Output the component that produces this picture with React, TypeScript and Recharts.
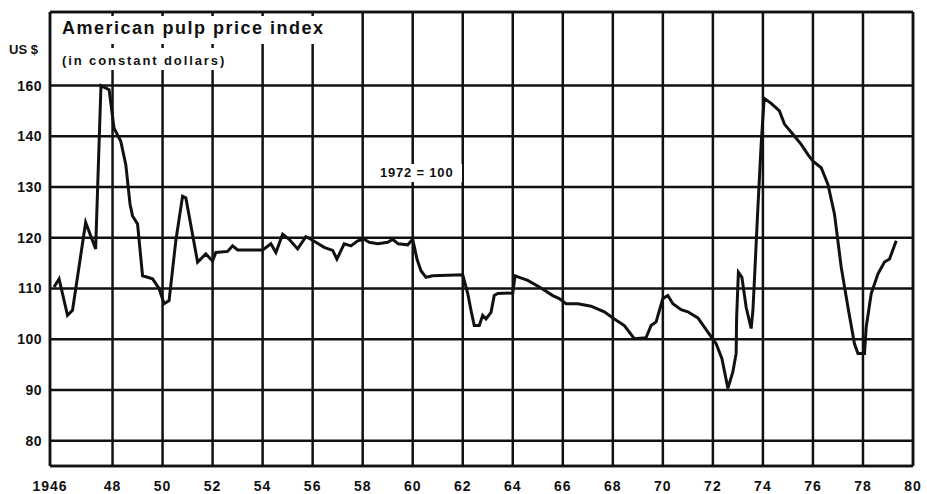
import React from 'react';
import { LineChart, Line, XAxis, YAxis, CartesianGrid, ReferenceLine } from 'recharts';

// American pulp price index (in constant dollars), 1972 = 100
const years = [
  1946.13, 1946.29, 1946.56, 1946.72, 1947.14, 1947.46, 1947.63, 1947.89,
  1948.06, 1948.33, 1948.53, 1948.7, 1948.8, 1949.0, 1949.2, 1949.6, 1949.86,
  1950.06, 1950.26, 1950.53, 1950.8, 1950.93, 1951.4, 1951.73, 1952.0, 1952.13,
  1952.6, 1952.8, 1953.0, 1954.0, 1954.33, 1954.53, 1954.8, 1955.06, 1955.4,
  1955.73, 1955.93, 1956.46, 1956.8, 1956.97, 1957.26, 1957.53, 1957.8, 1958.06,
  1958.26, 1958.6, 1959.0, 1959.2, 1959.42, 1959.8, 1960.0, 1960.17, 1960.33,
  1960.53, 1960.8, 1962.0, 1962.2, 1962.33, 1962.46, 1962.66, 1962.8, 1962.93,
  1963.13, 1963.26, 1963.4, 1964.0, 1964.09, 1964.26, 1964.6, 1965.13, 1965.6,
  1965.86, 1966.13, 1966.6, 1967.13, 1967.66, 1968.06, 1968.46, 1968.86, 1969.33,
  1969.53, 1969.73, 1970.0, 1970.2, 1970.4, 1970.73, 1971.0, 1971.4, 1971.8,
  1972.13, 1972.36, 1972.6, 1972.8, 1972.93, 1972.95, 1973.02, 1973.16, 1973.33,
  1973.53, 1973.6, 1973.66, 1973.8, 1973.93, 1974.05, 1974.33, 1974.66, 1974.86,
  1975.2, 1975.53, 1975.8, 1976.0, 1976.33, 1976.6, 1976.86, 1977.13, 1977.4,
  1977.66, 1977.8, 1978.06, 1978.13, 1978.33, 1978.6, 1978.86, 1979.06, 1979.33
];

const prices = [
  110.3, 111.9, 104.7, 105.7, 123, 117.8, 160, 158.4,
  143.2, 139, 134.4, 126.6, 124.3, 122.7, 112.5, 111.9, 110,
  107, 107.6, 119.4, 128.2, 127.9, 115.2, 116.8, 115.4, 117.1,
  117.3, 118.4, 117.6, 117.6, 118.8, 117.1, 120.7, 119.7, 117.8,
  120.2, 119.7, 118.1, 117.5, 115.8, 118.8, 118.4, 119.4, 119.7,
  119.1, 118.8, 119.1, 119.7, 118.8, 118.6, 119.7, 115.8, 113.5,
  112.2, 112.5, 112.7, 109, 105.7, 102.7, 102.7, 104.7, 104,
  105.3, 108.6, 109, 109.1, 112.5, 112.2, 111.6, 110.1, 108.6,
  108, 107, 107, 106.5, 105.4, 104, 102.7, 100.1, 100.3,
  102.7, 103.4, 108, 108.6, 107, 105.8, 105.4, 104.2, 101.4,
  99.1, 96.2, 90.3, 93.6, 97.2, 104.4, 113.2, 112.2, 106.3,
  102.1, 105.7, 111.6, 126, 138.4, 155, 153, 150, 144.8,
  140.8, 138.4, 136.4, 135.1, 133.8, 130.5, 124.7, 114.2, 106.3,
  99.1, 97.2, 97.2, 102.4, 109, 112.9, 115.2, 115.8, 119.4
];

const xTickYears = [1946, 1948, 1950, 1952, 1954, 1956, 1958, 1960, 1962, 1964, 1966, 1968, 1970, 1972, 1974, 1976, 1978, 1980];
const yTickValues = [80, 90, 100, 110, 120, 130, 140, 160];

// the printed chart stretches 1946-48 and squeezes the scale above 140
const toAxisX = (yr: number) => (yr < 1948 ? 1948 - (1948 - yr) * 1.25 : yr);
const toPlotY = (v: number) => (v > 140 ? 140 + (v - 140) / 2 : v);

const chartData = years.map((yr, i) => ({ x: toAxisX(yr), y: toPlotY(prices[i]) }));
const xTicks = xTickYears.map(toAxisX);
const yTicks = yTickValues.map(toPlotY);

const FONT = '"Liberation Sans", Arial, sans-serif';
const INK = '#111';

const App: React.FC = () => {
  return (
    <div style={{ position: 'absolute', left: 0, top: 0, width: 927, height: 494, background: '#fff' }}>
      <LineChart width={927} height={494} data={chartData} margin={{ top: 12, right: 14, bottom: 0, left: 0 }}>
        <CartesianGrid stroke={INK} strokeWidth={2.5} />
        <XAxis
          dataKey="x"
          type="number"
          domain={[1945.5, 1980]}
          ticks={xTicks}
          interval={0}
          height={28}
          tickLine={false}
          tickMargin={9}
          axisLine={{ stroke: INK, strokeWidth: 2.5 }}
          tick={{ fill: INK, fontFamily: FONT, fontSize: 14, fontWeight: 700, letterSpacing: 1 }}
          tickFormatter={(v: number, i: number) => (i === 0 ? String(xTickYears[0]) : String(xTickYears[i] ?? Math.round(v)).slice(2))}
        />
        <YAxis
          type="number"
          domain={[75, 164.5]}
          ticks={yTicks}
          interval={0}
          width={50}
          tickLine={false}
          axisLine={{ stroke: INK, strokeWidth: 2.5 }}
          tick={{ fill: INK, fontFamily: FONT, fontSize: 14, fontWeight: 700, letterSpacing: 0.5 }}
          tickFormatter={(v: number) => String(v > 140 ? 140 + (v - 140) * 2 : v)}
        />
        <ReferenceLine y={164.5} stroke={INK} strokeWidth={2.5} />
        <ReferenceLine x={1980} stroke={INK} strokeWidth={2.5} />
        <Line
          type="linear"
          dataKey="y"
          stroke={INK}
          strokeWidth={3}
          dot={false}
          isAnimationActive={false}
        />
      </LineChart>
      {/* title block and annotation sit over the grid */}
      <div style={{ position: 'absolute', left: 58, top: 16, width: 278, height: 28, background: '#fff' }} />
      <div style={{ position: 'absolute', left: 58, top: 48, width: 180, height: 22, background: '#fff' }} />
      <div style={{ position: 'absolute', left: 62, top: 18, fontFamily: FONT, fontSize: 18, fontWeight: 700, letterSpacing: 1.5, color: INK, whiteSpace: 'nowrap' }}>
        American pulp price index
      </div>
      <div style={{ position: 'absolute', left: 62, top: 53, fontFamily: FONT, fontSize: 13, fontWeight: 700, letterSpacing: 1.9, color: INK, whiteSpace: 'nowrap' }}>
        (in constant dollars)
      </div>
      <div style={{ position: 'absolute', left: 9, top: 42, fontFamily: FONT, fontSize: 13, fontWeight: 700, color: INK, whiteSpace: 'nowrap' }}>
        US $
      </div>
      <div style={{ position: 'absolute', left: 378, top: 164, width: 84, height: 18, background: '#fff' }} />
      <div style={{ position: 'absolute', left: 380, top: 165, fontFamily: FONT, fontSize: 13, fontWeight: 700, letterSpacing: 0.8, color: INK, whiteSpace: 'nowrap' }}>
        1972 = 100
      </div>
    </div>
  );
};

export default App;
